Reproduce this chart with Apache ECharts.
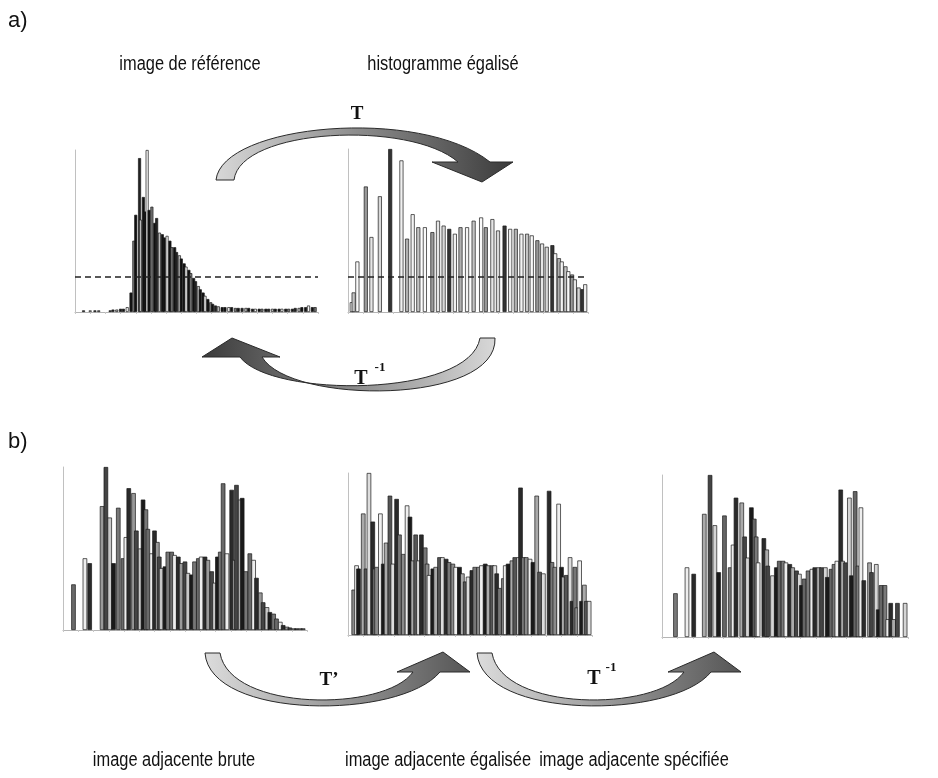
<!DOCTYPE html>
<html><head><meta charset="utf-8">
<script src="https://cdn.jsdelivr.net/npm/echarts@6/dist/echarts.min.js"></script>
<style>html,body{margin:0;padding:0;background:#fff}#c{width:938px;height:778px}</style>
</head><body><div id="c"></div>
<script>
// ---- data: gray level -> count (relative, 0..100) ----
const refLevels = [9,16,21,25,37,40,44,48,51,55, 59,62,64,68,69,72,74,76,78,81, 84,86,89,92,94,97,100,102,105,107, 110,112,115,117,120,122,125,127,130,132, 135,137,140,143,145,148,151,155,158,162, 165,169,172,176,180,183,187,190,194,197, 201,204,208,211,215,218,222,225,229,232, 236,239,243,246,250,253];
const refCounts = [1,1,1,1,1,1.5,1.5,2,2,3, 12,44,60,95,57,71,62,100,63,65, 55,58,49,48,46,47,44,40,40,37, 35,33,30,28,26,24,21,19,16,14, 12,10,8,6,5,4,3.5,3,3,3, 3,2.5,2.5,2.5,2.5,2.5,2,2,2,2, 2,2,2,2,2,2,2,2,2,2.5, 2.5,3,3,4,3,3];

const eqLevels = [4,6,10,19,25,34,45,57,63,69, 75,82,90,96,102,108,114,120,127,134, 142,147,154,160,167,173,179,185,191,196, 202,207,212,218,221,225,228,232,235,239, 242,246,250,253];
const eqCounts = [6,12,31,77,46,71,100,93,45,60, 52,52,49,56,53,51,48,52,52,56, 58,52,57,50,53,51,51,48,48,47, 44,42,40,41,36,33,31,28,25,23, 20,15,14,17];

const rawLevels = [11,23,28,41,45,49,53,58,63,66, 69,74,77,81,84,87,89,93,96,99, 101,103,107,110,114,117,121,124,128,131, 135,138,142,145,149,152,156,159,162,165, 168,172,177,180,182,186,188,192,196,200, 203,207,210,214,217,221,224,228,231,235, 238,242,245,249,252];
const rawCounts = [28,44,41,76,100,69,41,75,44,57, 87,84,61,50,80,74,62,47,61,54, 45,38,39,48,48,46,45,41,42,35, 34,42,44,45,45,43,36,29,45,48, 90,47,86,43,89,80,81,36,47,43, 32,23,17,14,11,10,7,5,3,2, 1.5,1,1,1,1];

const adjEqLevels = [6,9,11,16,19,22,26,28,30,34, 37,40,44,47,51,54,58,62,65,68, 71,74,77,81,83,85,89,92,96,99, 103,106,110,113,117,120,123,126,130,133, 137,140,144,147,151,154,156,159,163,165, 168,172,175,179,181,184,187,191,194,198, 201,205,211,214,217,221,224,226,229,233, 235,238,240,243,245,248,250,253];
const adjEqCounts = [28,43,41,75,41,100,70,41,42,75, 44,57,86,44,84,62,50,80,73,46, 62,46,62,54,44,37,41,42,48,48, 47,45,44,42,42,38,33,36,40,42, 42,43,44,43,43,43,38,29,35,43, 44,46,48,48,91,48,48,47,45,86, 39,38,89,45,42,81,42,36,37,48, 21,42,17,46,21,31,21,21];

const specLevels = [14,26,33,44,50,55,59,65,71,74, 77,83,86,89,93,96,98,100,106,109, 110,115,119,122,126,129,133,136,140,143, 145,148,152,156,159,163,166,170,172,176, 179,182,186,188,191,195,197,201,204,207, 210,216,218,223,225,228,232,235,238,241, 245,253];
const specCounts = [27,43,39,76,100,69,40,75,43,57, 86,83,62,49,80,73,62,46,61,54, 44,38,43,47,47,46,45,43,41,39, 32,36,41,42,43,43,43,43,37,42, 45,47,91,47,46,86,38,90,44,80, 35,46,40,45,17,32,32,11,21,11, 21,21];

const dashLevel = 21.6;

// ---- text ----
const panelA = 'a)', panelB = 'b)';
const topLabels = ['image de référence', 'histogramme égalisé'];
const bottomLabels = ['image adjacente brute', 'image adjacente égalisée', 'image adjacente spécifiée'];

// ---- styling ----
const palettes = [
  ['#111','#f4f4f4','#111','#777','#111','#222','#bbb','#111'],
  ['#f4f4f4','#c4c4c4','#fafafa','#9a9a9a','#e6e6e6','#d8d8d8','#333','#f0f0f0','#b0b0b0'],
  ['#6a6a6a','#eeeeee','#2a2a2a','#999','#444','#c8c8c8','#1a1a1a','#777'],
  ['#8a8a8a','#f0f0f0','#1a1a1a','#aaa','#555','#dddddd','#2a2a2a','#777'],
  ['#7a7a7a','#eeeeee','#2a2a2a','#aaa','#444','#d5d5d5','#1a1a1a','#666']
];
const sets = [
  {lv: refLevels, ct: refCounts, grid:{left:75, top:150, width:243, height:162}, bw:3, dash:true},
  {lv: eqLevels, ct: eqCounts, grid:{left:348, top:149, width:240, height:163}, bw:4, dash:true},
  {lv: rawLevels, ct: rawCounts, grid:{left:63, top:467, width:244, height:163}, bw:4.5},
  {lv: adjEqLevels, ct: adjEqCounts, grid:{left:348, top:473, width:244, height:162}, bw:4.5},
  {lv: specLevels, ct: specCounts, grid:{left:662, top:475, width:246, height:162}, bw:4.5}
];

const grid = [], xAxis = [], yAxis = [], series = [];
sets.forEach((s, i) => {
  grid.push(s.grid);
  xAxis.push({type:'value', gridIndex:i, min:0, max:256, interval:16,
    axisLine:{show:true, lineStyle:{color:'#b5b5b5', width:1}},
    axisTick:{show:true, length:2, lineStyle:{color:'#c8c8c8'}},
    axisLabel:{show:false}, splitLine:{show:false}});
  yAxis.push({type:'value', gridIndex:i, min:0, max:100,
    axisLine:{show:true, lineStyle:{color:'#c0c0c0', width:1}},
    axisTick:{show:false}, axisLabel:{show:false}, splitLine:{show:false}});
  const pal = palettes[i];
  const ser = {
    type:'bar', xAxisIndex:i, yAxisIndex:i, barWidth:s.bw, barGap:'-100%',
    data: s.lv.map((l, k) => [l, s.ct[k]]),
    itemStyle:{ color: p => pal[p.dataIndex % pal.length], borderColor:'#1a1a1a', borderWidth:0.7 },
    silent:true, animation:false
  };
  if (s.dash) {
    ser.markLine = {silent:true, symbol:'none', label:{show:false},
      lineStyle:{type:[6,4], color:'#222', width:1.5},
      data:[{yAxis: dashLevel}]};
  }
  series.push(ser);
});

function grad(x0, x1, light, dark) {
  return {type:'linear', x:x0, y:0, x2:x1, y2:0, global:false,
    colorStops:[{offset:0, color: light}, {offset:1, color: dark}]};
}
const SK = '#2a2a2a';
// decorative transformation arrows (drawn as a coordinate-free custom series)
const arrowShapes = [
  {d:'M216 180 C222 124 420 106 490 162 L513 162 L482 182 L432 162 L458 162 C410 120 240 128 234 180 Z', fill:grad(0,1,'#d8d8d8','#3a3a3a')},
  {d:'M495 338 C498 405 290 405 262 357 L280 357 L232 338 L202 357 L240 357 C270 398 470 398 480 338 Z', fill:grad(1,0,'#d8d8d8','#3a3a3a')},
  {d:'M205 653 C210 720 400 720 440 672 L470 672 L443 652 L397 672 L413 672 C385 712 230 712 220 653 Z', fill:grad(0,1,'#dcdcdc','#555')},
  {d:'M477 653 C482 720 672 720 711 672 L741 672 L714 652 L668 672 L684 672 C656 712 502 712 492 653 Z', fill:grad(0,1,'#dcdcdc','#555')}
];
series.push({
  type:'custom', coordinateSystem:'none', silent:true, animation:false, data:[0],
  renderItem: function () {
    return {type:'group', children: arrowShapes.map(a => ({
      type:'path', shape:{pathData:a.d}, style:{fill:a.fill, stroke:SK, lineWidth:1}
    }))};
  }
});

const LBL = '20px "Liberation Sans", Arial, sans-serif';
const TXT = (x, y, text, font, align, sx) => ({type:'text', x, y, scaleX: sx || 1,
  style:{text, font, fill:'#111', align: align || 'center', verticalAlign:'middle'}});
const graphics = [
  TXT(357, 114, 'T', 'bold 19px "Liberation Serif"'),
  TXT(361, 379, 'T', 'bold 20px "Liberation Serif"'),
  TXT(380, 368, '-1', 'bold 13px "Liberation Serif"'),
  TXT(329, 680, 'T’', 'bold 19px "Liberation Serif"'),
  TXT(594, 679, 'T', 'bold 20px "Liberation Serif"'),
  TXT(611, 668, '-1', 'bold 13px "Liberation Serif"'),
  TXT(8, 21, panelA, '22px "Liberation Sans"', 'left'),
  TXT(8, 442, panelB, '22px "Liberation Sans"', 'left'),
  TXT(190, 64, topLabels[0], LBL, 'center', 0.82),
  TXT(443, 64, topLabels[1], LBL, 'center', 0.82),
  TXT(174, 760, bottomLabels[0], LBL, 'center', 0.82),
  TXT(438, 760, bottomLabels[1], LBL, 'center', 0.82),
  TXT(634, 760, bottomLabels[2], LBL, 'center', 0.82)
];

const chart = echarts.init(document.getElementById('c'), null, {renderer:'canvas'});
chart.setOption({animation:false, backgroundColor:'#fff', grid, xAxis, yAxis, series, graphic:graphics});
</script>
</body></html>
